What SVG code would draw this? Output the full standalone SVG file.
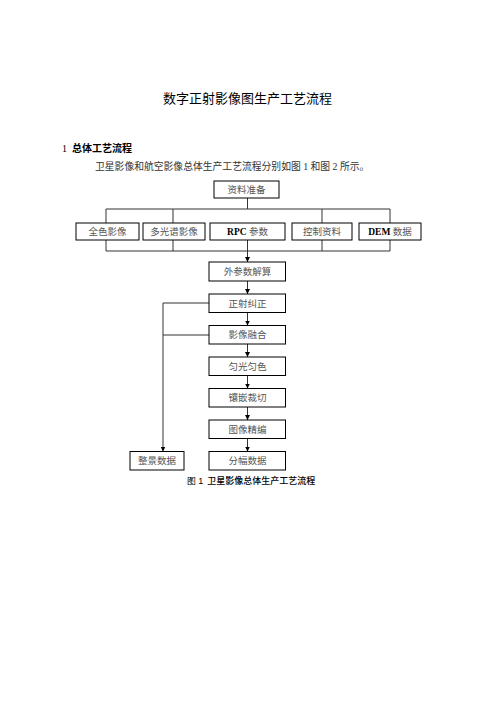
<svg xmlns="http://www.w3.org/2000/svg" width="496" height="702" viewBox="0 0 496 702">
<style>
.box{fill:#fff;stroke:#000;stroke-width:1}
.lbl{font-family:"Liberation Serif","Noto Sans CJK SC",serif;font-size:9.5px;fill:#555;text-anchor:middle}
.lat{font-weight:bold;fill:#000}
.ln{fill:none;stroke:#333;stroke-width:1}
.h{font-family:"Noto Sans CJK SC",sans-serif;fill:#000}
</style>
<defs>
<marker id="ah" viewBox="0 0 10 10" refX="10" refY="5" markerWidth="5" markerHeight="5" orient="auto" markerUnits="userSpaceOnUse">
<path d="M0,0 L10,5 L0,10 z" fill="#000"/>
</marker>
</defs>
<rect width="496" height="702" fill="#fff"/>
<text class="h" x="247.5" y="103" font-size="13" text-anchor="middle">数字正射影像图生产工艺流程</text>
<text x="62" y="151.5" font-size="10"><tspan font-family="Liberation Serif,serif">1</tspan><tspan class="h" x="72" font-weight="bold">总体工艺流程</tspan></text>
<text x="95" y="170" font-family="Liberation Serif,'Noto Sans CJK SC',serif" font-size="9.8" fill="#333">卫星影像和航空影像总体生产工艺流程分别如图 1 和图 2 所示。</text>

<g id="connectors">
<path class="ln" d="M247.5,198 V209 M106,223 V209 H390 V223 M173,209 V223 M322,209 V223"/>
<path class="ln" d="M106,240 V251 H390 V240 M173,240 V251 M322,240 V251 M247.5,240 V251"/>
<path class="ln" d="M247.5,251 V262" stroke="#000" marker-end="url(#ah)"/>
<path class="ln" d="M247.5,281 V294" marker-end="url(#ah)"/>
<path class="ln" d="M247.5,312.5 V325.5" marker-end="url(#ah)"/>
<path class="ln" d="M247.5,344 V357" marker-end="url(#ah)"/>
<path class="ln" d="M247.5,375.5 V388.5" marker-end="url(#ah)"/>
<path class="ln" d="M247.5,407 V420" marker-end="url(#ah)"/>
<path class="ln" d="M247.5,438.5 V451.5" marker-end="url(#ah)"/>
<path class="ln" d="M209,303 H163 V451.5" marker-end="url(#ah)"/>
<path class="ln" d="M209,335 H163"/>
</g>

<g id="n-ziliao"><rect class="box" x="214" y="181" width="65" height="17"/><text class="lbl" x="246.5" y="193">资料准备</text></g>
<g id="n-quanse"><rect class="box" x="76" y="223" width="63" height="17"/><text class="lbl" x="107.5" y="235">全色影像</text></g>
<g id="n-duoguangpu"><rect class="box" x="143" y="223" width="62" height="17"/><text class="lbl" x="174" y="235">多光谱影像</text></g>
<g id="n-rpc"><rect class="box" x="210" y="223" width="75" height="17"/><text class="lbl" x="247.5" y="235"><tspan class="lat">RPC</tspan> 参数</text></g>
<g id="n-kongzhi"><rect class="box" x="292" y="223" width="60" height="17"/><text class="lbl" x="322" y="235">控制资料</text></g>
<g id="n-dem"><rect class="box" x="359" y="223" width="62" height="17"/><text class="lbl" x="390" y="235"><tspan class="lat">DEM</tspan> 数据</text></g>

<g id="n-waican"><rect class="box" x="209" y="262" width="76.5" height="19"/><text class="lbl" x="247.5" y="275">外参数解算</text></g>
<g id="n-zhengshe"><rect class="box" x="209" y="294" width="76.5" height="18.5"/><text class="lbl" x="247.5" y="306.5">正射纠正</text></g>
<g id="n-ronghe"><rect class="box" x="209" y="325.5" width="76.5" height="18.5"/><text class="lbl" x="247.5" y="338">影像融合</text></g>
<g id="n-yunguang"><rect class="box" x="209" y="357" width="76.5" height="18.5"/><text class="lbl" x="247.5" y="369.5">匀光匀色</text></g>
<g id="n-xiangqian"><rect class="box" x="209" y="388.5" width="76.5" height="18.5"/><text class="lbl" x="247.5" y="401">镶嵌裁切</text></g>
<g id="n-jingbian"><rect class="box" x="209" y="420" width="76.5" height="18.5"/><text class="lbl" x="247.5" y="432.5">图像精编</text></g>
<g id="n-fenfu"><rect class="box" x="209" y="451.5" width="76.5" height="18.5"/><text class="lbl" x="247.5" y="464">分幅数据</text></g>
<g id="n-zhengjing"><rect class="box" x="130" y="451.5" width="54" height="18.5"/><text class="lbl" x="157" y="464">整景数据</text></g>

<text x="251" y="484" font-size="9" text-anchor="middle"><tspan font-family="Liberation Sans,sans-serif">图 1</tspan><tspan class="h" font-weight="500" dx="4">卫星影像总体生产工艺流程</tspan></text>
</svg>
